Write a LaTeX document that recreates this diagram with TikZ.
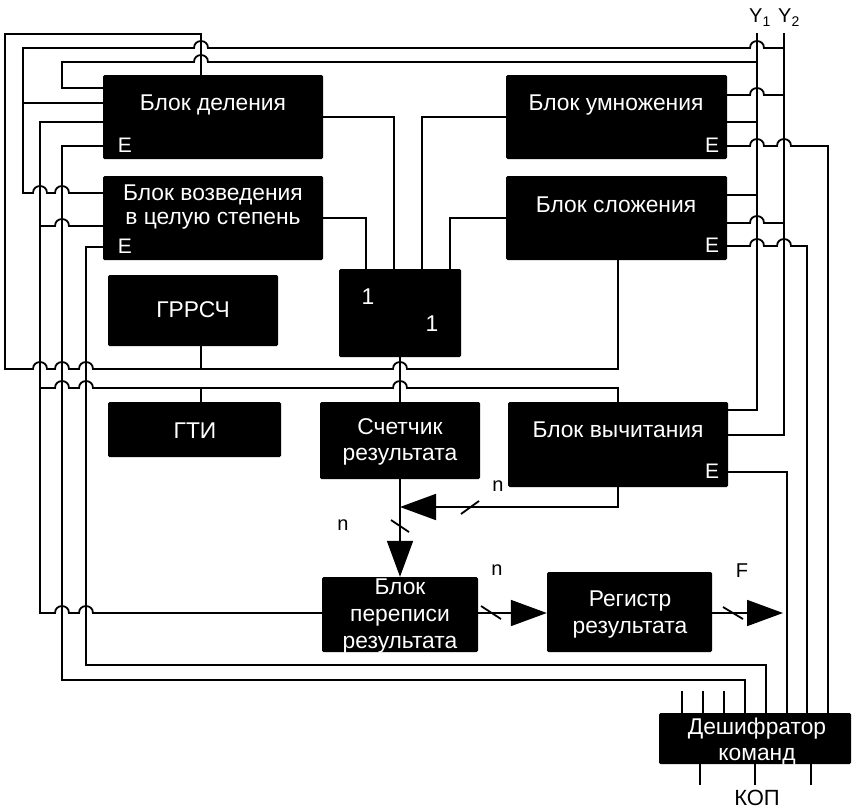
\documentclass[tikz,border=0pt]{standalone}
\usepackage{fontspec}
\setmainfont{Liberation Sans}
\usetikzlibrary{arrows.meta}
\begin{document}
\begin{tikzpicture}[x=1pt,y=-1pt,
  blk/.style={fill=black,rounded corners=1.5pt,inner sep=0pt,draw=none},
  wire/.style={line width=1.8pt},
  hop/.style={out=90,in=90,looseness=1.7},
  lbl/.style={text=white,inner sep=0pt,anchor=base,align=center,font=\fontsize{22.8}{27}\selectfont},
  elbl/.style={text=white,inner sep=0pt,anchor=base,font=\fontsize{21}{22}\selectfont},
  blbl/.style={text=black,inner sep=0pt,anchor=base,font=\fontsize{20}{22}\selectfont},
  bigarrow/.style={-{Triangle[length=36pt,width=26pt]}},
  slash/.style={line width=1.8pt}
]
\useasboundingbox (0,0) rectangle (852,811);

% boxes
\node[blk,minimum width=220pt,minimum height=84pt] (dele) at (213,117) {};
\node[blk,minimum width=220pt,minimum height=84pt] (vozv) at (213,218) {};
\node[blk,minimum width=221pt,minimum height=84pt] (umn) at (616.5,117) {};
\node[blk,minimum width=221pt,minimum height=84pt] (slo) at (616.5,218) {};
\node[blk,minimum width=170pt,minimum height=71pt] (grr) at (193,310.5) {};
\node[blk,minimum width=173pt,minimum height=55pt] (gti) at (194.5,429.5) {};
\node[blk,minimum width=122pt,minimum height=88pt] (one) at (400,313) {};
\node[blk,minimum width=160pt,minimum height=77pt] (cnt) at (400,440.5) {};
\node[blk,minimum width=220pt,minimum height=85pt] (vych) at (618,444.5) {};
\node[blk,minimum width=156pt,minimum height=75pt] (perep) at (400,614.5) {};
\node[blk,minimum width=165pt,minimum height=80pt] (reg) at (629.5,612) {};
\node[blk,minimum width=192pt,minimum height=51pt] (dec) at (755,738.5) {};

% box texts
\node[lbl] (tdele) at (213,110) {Блок деления};
\node[elbl] (edele) at (125,152) {E};
\node[lbl] (tvozv1) at (213,200) {Блок возведения};
\node[lbl] (tvozv2) at (213,224) {в целую степень};
\node[elbl] (evozv) at (125,253) {E};
\node[lbl] (tumn) at (616,110) {Блок умножения};
\node[elbl] (eumn) at (712,152) {E};
\node[lbl] (tslo) at (616,212) {Блок сложения};
\node[elbl] (eslo) at (712,252) {E};
\node[lbl] (tgrr) at (193,317) {ГРРСЧ};
\node[lbl] (tgti) at (195,438) {ГТИ};
\node[lbl] (tone1) at (368,304) {1};
\node[lbl] (tone2) at (432,331) {1};
\node[lbl] (tcnt1) at (400,434) {Счетчик};
\node[lbl] (tcnt2) at (400,460) {результата};
\node[lbl] (tvych) at (618,437) {Блок вычитания};
\node[elbl] (evych) at (712,478) {E};
\node[lbl] (tper1) at (400,594) {Блок};
\node[lbl] (tper2) at (400,621) {переписи};
\node[lbl] (tper3) at (400,648) {результата};
\node[lbl] (treg1) at (630,606) {Регистр};
\node[lbl] (treg2) at (630,633) {результата};
\node[lbl] (tdec1) at (757,734) {Дешифратор};
\node[lbl] (tdec2) at (757,760) {команд};

% outside labels
\node[blbl] (ly1) at (760,23) {Y\textsubscript{1}};
\node[blbl] (ly2) at (789,23) {Y\textsubscript{2}};
\node[blbl,font=\fontsize{22}{24}\selectfont] (kop) at (757,805) {КОП};
\node[blbl] (n1) at (498,491) {n};
\node[blbl] (n2) at (343,530) {n};
\node[blbl] (n3) at (497,575) {n};
\node[blbl] (lf) at (742,577) {F};

% coordinates
\coordinate (y1) at (757,33);
\coordinate (y2) at (784,33);
\coordinate (j1) at (400,507);
\coordinate (fout) at (783,613);

% top loop: slozhenie bottom -> deleniya top, GRRSCh
\draw[wire] (slo.south -| 618,0) -- (618,369) -- (407,369) to[hop] (393,369) -- (93,369) to[hop] (79,369) -- (69,369) to[hop] (55,369) -- (47,369) to[hop] (33,369) -- (5,369) -- (5,34) -- (201,34) -- (dele.north -| 201,0);
\draw[wire] (grr.south -| 201,0) -- (201,369);

% clock line (GTI)
\draw[wire] (vych.north -| 618,0) -- (618,388) -- (407,388) to[hop] (393,388) -- (93,388) to[hop] (79,388) -- (69,388) to[hop] (55,388) -- (40,388);
\draw[wire] (gti.north -| 201,0) -- (201,388);
\draw[wire] (dele.west |- 0,122) -- (40,122) -- (40,613) -- (55,613) to[hop] (69,613) -- (79,613) to[hop] (93,613) -- (perep.west |- 0,613);
\draw[wire] (40,226) -- (55,226) to[hop] (69,226) -- (vozv.west |- 0,226);

% Y1, Y2
\draw[wire] (y1) -- (757,410) -- (vych.east |- 0,410);
\draw[wire] (y2) -- (784,435) -- (vych.east |- 0,435);
\draw[wire] (784,48) -- (764,48) to[hop] (750,48) -- (208,48) to[hop] (194,48) -- (23,48) -- (23,193) -- (33,193) to[hop] (47,193) -- (55,193) to[hop] (69,193) -- (vozv.west |- 0,193);
\draw[wire] (23,103) -- (dele.west |- 0,103);
\draw[wire] (757,62) -- (208,62) to[hop] (194,62) -- (62,62) -- (62,88) -- (dele.west |- 0,88);

% E outputs
\draw[wire] (dele.west |- 0,146) -- (62,146) -- (62,680) -- (745,680) -- (dec.north -| 745,0);
\draw[wire] (vozv.west |- 0,247) -- (86,247) -- (86,665) -- (766,665) -- (dec.north -| 766,0);
\draw[wire] (umn.east |- 0,95) -- (750,95) to[hop] (764,95) -- (784,95);
\draw[wire] (umn.east |- 0,122) -- (757,122);
\draw[wire] (umn.east |- 0,146) -- (750,146) to[hop] (764,146) -- (777,146) to[hop] (791,146) -- (828,146) -- (dec.north -| 828,0);
\draw[wire] (slo.east |- 0,195) -- (757,195);
\draw[wire] (slo.east |- 0,223) -- (750,223) to[hop] (764,223) -- (784,223);
\draw[wire] (slo.east |- 0,246) -- (750,246) to[hop] (764,246) -- (777,246) to[hop] (791,246) -- (807,246) -- (dec.north -| 807,0);
\draw[wire] (vych.east |- 0,472) -- (787,472) -- (dec.north -| 787,0);

% inputs of the "1" block
\draw[wire] (dele.east |- 0,117) -- (394,117) -- (one.north -| 394,0);
\draw[wire] (vozv.east |- 0,218) -- (366,218) -- (one.north -| 366,0);
\draw[wire] (umn.west |- 0,117) -- (422,117) -- (one.north -| 422,0);
\draw[wire] (slo.west |- 0,218) -- (450,218) -- (one.north -| 450,0);
\draw[wire] (one.south) -- (cnt.north);

% data arrows
\draw[wire,bigarrow] (vych.south) -- (vych.south |- j1) -- (j1);
\draw[wire,bigarrow] (cnt.south) -- (perep.north);
\draw[wire,bigarrow] (perep.east |- 0,613) -- (reg.west |- 0,613);
\draw[wire,bigarrow] (reg.east |- 0,613) -- (fout);
\draw[slash] (461,514) -- (479,501);
\draw[slash] (391,520) -- (409,532);
\draw[slash] (481,606) -- (501,619);
\draw[slash] (723,607) -- (743,619);

% decoder stubs
\foreach \x in {682,703,724} \draw[wire] (\x,691) -- (dec.north -| \x,0);
\foreach \x in {700,755,811} \draw[wire] (dec.south -| \x,0) -- (\x,785);
\end{tikzpicture}
\end{document}
